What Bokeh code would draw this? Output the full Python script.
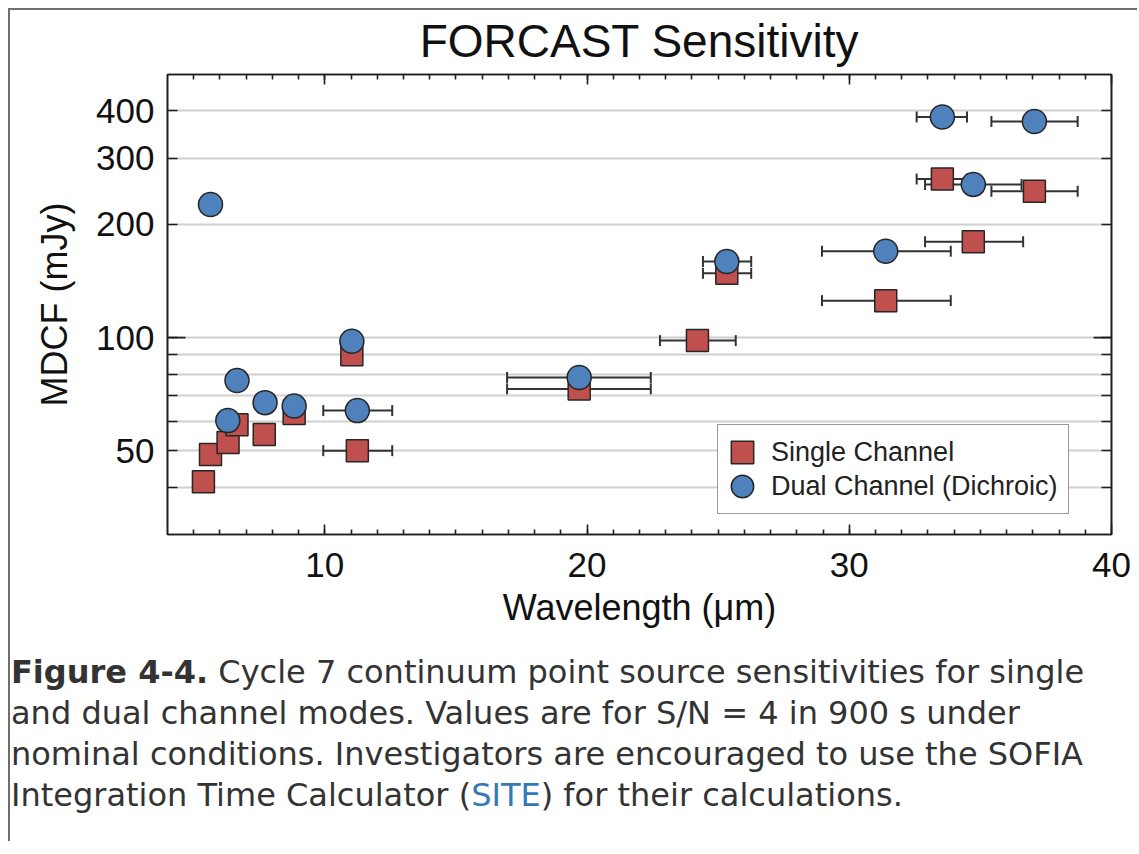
from bokeh.plotting import figure
from bokeh.models import (ColumnDataSource, FixedTicker, LinearAxis, LogAxis,
                          Legend, LegendItem, Div, Range1d, CustomLabelingPolicy)
from bokeh.layouts import column
from bokeh.embed import file_html
from bokeh.resources import INLINE
import math

# ---------------- data ----------------
single_x = [5.37, 5.64, 6.31, 6.65, 7.69, 8.83, 11.03, 11.24, 19.70, 24.21, 25.33, 31.39, 33.55, 34.73, 37.06]
single_y = [41.4, 48.9, 52.7, 58.7, 55.3, 62.9, 90.0, 50.1, 73.1, 98.2, 148.2, 125.4, 264.0, 179.9, 245.0]
single_lo = [None, None, None, None, None, None, None, 9.94, 16.95, 22.78, 24.42, 28.96, 32.57, 32.89, 35.42]
single_hi = [None, None, None, None, None, None, None, 12.57, 22.43, 25.67, 26.26, 33.87, 34.49, 36.63, 38.71]

dual_x = [5.64, 6.30, 6.65, 7.72, 8.83, 11.03, 11.24, 19.70, 25.33, 31.39, 33.55, 34.73, 37.06]
dual_y = [225.8, 60.2, 76.9, 67.2, 65.8, 97.8, 64.0, 78.4, 159.3, 169.7, 385.4, 255.3, 375.0]
dual_lo = [None, None, None, None, None, None, 9.94, 16.95, 24.42, 28.96, 32.57, 32.89, 35.42]
dual_hi = [None, None, None, None, None, None, 12.57, 22.43, 26.26, 33.87, 34.49, 36.57, 38.71]

x_major = [10, 20, 30, 40]
x_minor = list(range(5, 40))
y_major = [50, 100, 200, 300, 400]
y_minor = [40, 60, 70, 80, 90]
y_grid = [40, 50, 60, 70, 80, 90, 100, 200, 300, 400]
y_decade = [100]

title_text = "FORCAST Sensitivity"
x_label = "Wavelength (\u03bcm)"
y_label = "MDCF (mJy)"
legend_labels = ["Single Channel", "Dual Channel (Dichroic)"]

FONT = "Liberation Sans"
RED = "#c0504d"
BLUE = "#4f81bd"
EDGE = "#262626"
AX = "#1e1e1e"


def err_source(xs, ys, lo, hi):
    d = dict(x=[], y=[], lo=[], hi=[])
    for x, y, l, h in zip(xs, ys, lo, hi):
        if l is not None:
            d["x"].append(x); d["y"].append(y); d["lo"].append(l); d["hi"].append(h)
    return ColumnDataSource(d)


xr = Range1d(4.0, 40.0)
yr = Range1d(30, 500)
p = figure(frame_width=944, frame_height=460, x_range=xr, y_range=yr,
           y_axis_type="log", output_backend="svg", toolbar_location=None,
           min_border_left=157, min_border_right=26, min_border_top=63,
           min_border_bottom=107, title=title_text, margin=(-5, 0, 0, 0),
           background_fill_color="white", border_fill_alpha=0.0)

p.title.text_font = FONT
p.title.text_font_style = "normal"
p.title.text_font_size = "46px"
p.title.text_color = "#111111"
p.title.align = "center"
p.title.standoff = 15

xa = p.xaxis[0]
xa.ticker = FixedTicker(ticks=x_major, minor_ticks=x_minor)
xa.axis_label = x_label
ya = p.yaxis[0]
ya.ticker = FixedTicker(ticks=y_major, minor_ticks=y_minor)
ya.axis_label = y_label

for ax in (xa, ya):
    ax.axis_line_color = AX
    ax.axis_line_width = 1.6
    ax.major_tick_line_color = AX
    ax.minor_tick_line_color = AX
    ax.major_tick_line_width = 1.6
    ax.minor_tick_line_width = 1.6
    ax.major_tick_out = 0
    ax.minor_tick_out = 0
    ax.major_label_text_font = FONT
    ax.major_label_text_font_size = "35px"
    ax.major_label_text_color = "#111111"
    ax.axis_label_text_font = FONT
    ax.axis_label_text_font_size = "36px"
    ax.axis_label_text_font_style = "normal"
    ax.axis_label_text_color = "#111111"

xa.major_tick_in = 10
xa.minor_tick_in = 5
xa.major_label_standoff = 18
xa.axis_label_standoff = 7
ya.major_tick_in = 10
ya.minor_tick_in = 10
ya.major_label_standoff = 13
ya.axis_label_standoff = 18

# mirrored axes: ticks only, no labels
top = LinearAxis(ticker=FixedTicker(ticks=x_major, minor_ticks=x_minor))
right = LogAxis(ticker=FixedTicker(ticks=y_major, minor_ticks=y_minor))
for ax, tin, mtin in ((top, 10, 5), (right, 10, 10)):
    ax.axis_line_color = AX
    ax.axis_line_width = 1.6
    ax.major_tick_line_color = AX
    ax.minor_tick_line_color = AX
    ax.major_tick_line_width = 1.6
    ax.minor_tick_line_width = 1.6
    ax.major_tick_out = 0
    ax.minor_tick_out = 0
    ax.major_tick_in = tin
    ax.minor_tick_in = mtin
    ax.major_label_standoff = 0
    ax.major_label_text_font_size = "0px"
    ax.major_label_policy = CustomLabelingPolicy(code="return []")
p.add_layout(top, "above")
p.add_layout(right, "right")

p.xgrid.visible = False
p.ygrid.ticker = FixedTicker(ticks=y_grid)
p.ygrid.grid_line_color = "#cfcfcf"
p.ygrid.grid_line_width = 2
p.outline_line_color = AX
p.outline_line_width = 1.6

# longer decade ticks at 100 on both vertical axes
p.ray(x=[xr.start] * len(y_decade), y=y_decade, length=18, length_units="screen",
      angle=0, line_color=AX, line_width=1.6)
p.ray(x=[xr.end] * len(y_decade), y=y_decade, length=18, length_units="screen",
      angle=math.pi, line_color=AX, line_width=1.6)

# error bars (drawn beneath the markers)
for src in (err_source(single_x, single_y, single_lo, single_hi),
            err_source(dual_x, dual_y, dual_lo, dual_hi)):
    p.segment(x0="lo", y0="y", x1="hi", y1="y", source=src,
              line_color="#333333", line_width=2)
    p.scatter(x="lo", y="y", source=src, marker="dash", angle=math.pi / 2,
              size=11, line_color="#333333", line_width=2)
    p.scatter(x="hi", y="y", source=src, marker="dash", angle=math.pi / 2,
              size=11, line_color="#333333", line_width=2)

sq = p.rect(x=single_x, y=single_y, width=22, height=22,
            width_units="screen", height_units="screen",
            fill_color=RED, line_color=EDGE, line_width=1.5)
ci = p.ellipse(x=dual_x, y=dual_y, width=24, height=24,
               width_units="screen", height_units="screen",
               fill_color=BLUE, line_color=EDGE, line_width=1.5)

legend = Legend(items=[LegendItem(label=legend_labels[0], renderers=[sq]),
                       LegendItem(label=legend_labels[1], renderers=[ci])],
                location=(550, 20), margin=0, padding=10, spacing=0,
                glyph_width=28, glyph_height=28, label_height=34,
                label_standoff=15,
                label_text_font=FONT, label_text_font_size="27px",
                label_text_color="#222222",
                border_line_color="#333333", border_line_width=1.6,
                background_fill_color="white", background_fill_alpha=1.0)
p.add_layout(legend)

caption_html = ('<b>Figure 4-4.</b> Cycle 7 continuum point source sensitivities for single<br>'
                'and dual channel modes. Values are for S/N = 4 in 900 s under<br>'
                'nominal conditions. Investigators are encouraged to use the SOFIA<br>'
                'Integration Time Calculator (<span style="color:#3479b7">SITE</span>) for their calculations.')
cap = Div(text=caption_html, width=1126, height=200, margin=0,
          styles={"font-family": "DejaVu Sans", "font-size": "32px",
                  "line-height": "41px", "color": "#333333",
                  "white-space": "nowrap", "padding-top": "11px",
                  "padding-left": "1px"})

lay = column(p, cap, margin=(8, 0, 0, 8),
             styles={"border-left": "2px solid #6e6e6e",
                     "border-top": "2px solid #6e6e6e"})

open("out.html", "w").write(file_html(lay, INLINE))
